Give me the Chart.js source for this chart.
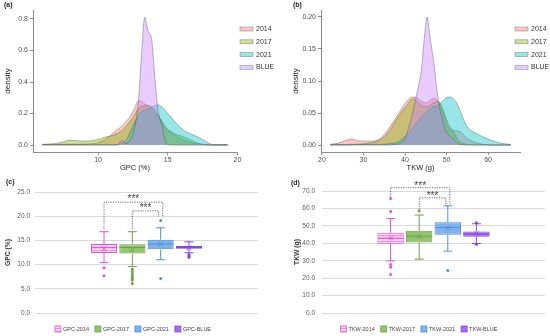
<!DOCTYPE html>
<html>
<head>
<meta charset="utf-8">
<script src="https://cdn.jsdelivr.net/npm/chart.js@4.4.1/dist/chart.umd.min.js"></script>
<style>
  body { margin: 0; background: #fff; }
  #wrap { position: relative; width: 550px; height: 336px; overflow: hidden; }
  canvas { position: absolute; }
  .tag { position: absolute; font: bold 7px "Liberation Sans", Arial, sans-serif; color: #222; }
</style>
</head>
<body>
<div id="wrap">
  <canvas id="gpcBox" width="275" height="164" style="left:0;top:172px"></canvas>
  <canvas id="tkwBox" width="275" height="164" style="left:275px;top:172px"></canvas>
  <canvas id="gpcDensity" width="275" height="176" style="left:0;top:0"></canvas>
  <canvas id="tkwDensity" width="275" height="176" style="left:275px;top:0"></canvas>
  <div class="tag" style="left:4px;top:1px">(a)</div>
  <div class="tag" style="left:293px;top:1px">(b)</div>
  <div class="tag" style="left:6px;top:178px">(c)</div>
  <div class="tag" style="left:291px;top:179px">(d)</div>
</div>
<script>
const FONT = '"Liberation Sans", Arial, sans-serif';

// ---- density data ----
const densityLabels = ["2014", "2017", "2021", "BLUE"];

const gpcX = [6, 7, 7.5, 8, 8.5, 9, 9.5, 10, 10.5, 11, 11.4, 11.7, 12, 12.3, 12.6, 12.9, 13.1,
              13.35, 13.6, 13.85, 14.05, 14.3, 14.6, 14.9, 15.3, 15.7, 16.2, 16.7, 17.2, 17.7, 18.2, 18.7, 19.3];
const gpc2014 = [0.003, 0.004, 0.005, 0.006, 0.006, 0.006, 0.008, 0.015, 0.035, 0.07, 0.1, 0.12, 0.15, 0.18, 0.23, 0.28, 0.28,
                 0.26, 0.25, 0.24, 0.22, 0.19, 0.15, 0.11, 0.08, 0.05, 0.03, 0.015, 0.008, 0.003, 0.001, 0, 0];
const gpc2017 = [0.005, 0.01, 0.02, 0.03, 0.028, 0.025, 0.027, 0.035, 0.05, 0.06, 0.075, 0.09, 0.12, 0.15, 0.19, 0.23, 0.245,
                 0.25, 0.25, 0.24, 0.22, 0.19, 0.14, 0.1, 0.08, 0.065, 0.05, 0.03, 0.01, 0.002, 0, 0, 0];
const gpc2021 = [0.002, 0.002, 0.002, 0.002, 0.002, 0.002, 0.002, 0.002, 0.002, 0.002, 0.004, 0.01, 0.03, 0.08, 0.14, 0.19, 0.21,
                 0.22, 0.23, 0.24, 0.25, 0.255, 0.24, 0.21, 0.17, 0.13, 0.09, 0.07, 0.05, 0.025, 0.005, 0.003, 0.003];
const gpcBlue = [0, 0, 0, 0, 0, 0, 0, 0, 0, 0, 0, 0.03, 0.01, 0.03, 0.1, 0.28, 0.55,
                 0.81, 0.72, 0.67, 0.45, 0.22, 0.12, 0.01, 0, 0, 0, 0, 0, 0, 0, 0, 0];
const gpcXTicks = [10, 15, 20];
const gpcYTicks = [0, 0.2, 0.4, 0.6, 0.8];

const tkwX = [22, 24, 26, 27, 28, 30, 32, 34, 36, 38, 39, 40, 41, 42, 43, 44, 44.7,
              45.3, 46, 47, 48, 49, 50, 50.7, 51.5, 52.5, 53.5, 55, 57, 59, 61, 63, 65.5];
const tkw2014 = [0.001, 0.003, 0.008, 0.009, 0.008, 0.006, 0.006, 0.01, 0.025, 0.045, 0.055, 0.065, 0.072, 0.075, 0.073, 0.068, 0.066,
                 0.066, 0.07, 0.073, 0.068, 0.055, 0.04, 0.03, 0.023, 0.022, 0.02, 0.01, 0.004, 0.001, 0, 0, 0];
const tkw2017 = [0, 0, 0, 0, 0.001, 0.002, 0.004, 0.008, 0.02, 0.04, 0.05, 0.058, 0.067, 0.072, 0.068, 0.062, 0.06,
                 0.06, 0.062, 0.066, 0.068, 0.058, 0.035, 0.025, 0.022, 0.01, 0.004, 0.001, 0, 0, 0, 0, 0];
const tkw2021 = [0.001, 0.001, 0.001, 0.001, 0.001, 0.001, 0.001, 0.001, 0.002, 0.004, 0.008, 0.013, 0.02, 0.028, 0.036, 0.043, 0.048,
                 0.052, 0.056, 0.06, 0.063, 0.068, 0.074, 0.075, 0.073, 0.065, 0.05, 0.028, 0.019, 0.012, 0.007, 0.003, 0.001];
const tkwBlue = [0, 0, 0, 0, 0, 0, 0, 0, 0, 0.001, 0.003, 0.01, 0.03, 0.055, 0.085, 0.12, 0.17,
                 0.2, 0.17, 0.125, 0.07, 0.04, 0.02, 0.015, 0.01, 0.004, 0, 0, 0, 0, 0, 0, 0];
const tkwXTicks = [20, 30, 40, 50, 60];
const tkwYTicks = [0, 0.05, 0.1, 0.15, 0.2];

// ---- box plot data ----
const gpcSeries = ["GPC-2014", "GPC-2017", "GPC-2021", "GPC-BLUE"];
const gpcQ1 = [12.4, 12.3, 13.15, 13.3];
const gpcQ3 = [14.25, 14.2, 15.15, 13.85];
const gpcMedian = [13.5, 13.55, 14.25, 13.55];
const gpcMean = [13.3, 13.05, 14.2, 13.5];
const gpcMin = [10.45, 9.6, 11.0, 12.45];
const gpcMax = [16.8, 16.8, 17.6, 14.7];
const gpcOutliers = [[9.35, 7.7], [9.1, 8.6, 8.1, 7.6, 7.2, 6.8, 6.1], [19.1, 7.15], [12.1, 11.8, 11.5]];
const gpcBracketFrom = [0, 1];
const gpcBracketTo = [2, 2];
const gpcBracketTop = [22.9, 21.1];
const gpcBracketFromEnd = [17.3, 17.3];
const gpcBracketToEnd = [19.7, 19.85];

const tkwSeries = ["TKW-2014", "TKW-2017", "TKW-2021", "TKW-BLUE"];
const tkwQ1 = [39.7, 40.5, 44.9, 43.7];
const tkwQ3 = [46.0, 47.2, 52.0, 46.8];
const tkwMedian = [42.9, 44.1, 49.1, 45.3];
const tkwMean = [43.0, 43.9, 48.6, 45.5];
const tkwMin = [29.9, 30.9, 35.5, 39.9];
const tkwMax = [54.2, 56.2, 61.5, 51.2];
const tkwOutliers = [[65.7, 58.2, 27.8, 26.3, 22.1], [58.5], [24.4], [51.8, 39.4]];
const tkwBracketFrom = [0, 1];
const tkwBracketTo = [2, 2];
const tkwBracketTop = [71.9, 66.1];
const tkwBracketFromEnd = [66.7, 59.5];
const tkwBracketToEnd = [62.3, 62.3];

// ---- density charts ----
const densityFill = ["rgba(248,118,109,0.4)", "rgba(124,174,0,0.4)", "rgba(0,191,196,0.4)", "rgba(199,124,255,0.4)"];

const densityLegend = {
    id: "densityLegend",
    afterDraw(chart, args, opts) {
        const ctx = chart.ctx;
        ctx.save();
        ctx.font = "7px " + FONT;
        ctx.textBaseline = "middle";
        chart.data.datasets.forEach((ds, i) => {
            const y = opts.top + i * 12.8;
            ctx.fillStyle = ds.backgroundColor;
            ctx.fillRect(opts.left, y - 2, 13, 4);
            ctx.strokeStyle = ds.borderColor;
            ctx.lineWidth = 0.6;
            ctx.strokeRect(opts.left, y - 2, 13, 4);
            ctx.fillStyle = "#333";
            ctx.fillText(ds.label, opts.left + 16, y);
        });
        ctx.restore();
    }
};

function densityConfig(xs, series, xTicks, yTicks, xRange, yRange, xTitle, yDigits, leftWidth, yTitlePad) {
    return {
        type: "line",
        data: {
            datasets: series.map((ys, i) => ({
                label: densityLabels[i],
                data: xs.map((x, j) => ({ x: x, y: ys[j] })),
                backgroundColor: densityFill[i],
                borderColor: "rgba(70,70,70,0.55)",
                borderWidth: 0.7,
                fill: "origin",
                pointRadius: 0,
                cubicInterpolationMode: "monotone",
                order: 4 - i
            }))
        },
        options: {
            responsive: false,
            animation: false,
            events: [],
            layout: { padding: { left: 0, top: 10, right: 275 - leftWidth - (xRange.width), bottom: 0 } },
            plugins: {
                legend: { display: false },
                tooltip: { enabled: false },
                densityLegend: { left: 240, top: 29 }
            },
            scales: {
                x: {
                    type: "linear",
                    min: xRange.min,
                    max: xRange.max,
                    afterBuildTicks: s => { s.ticks = xTicks.map(v => ({ value: v })); },
                    afterFit: s => { s.height = 24; },
                    grid: { drawOnChartArea: false, drawTicks: true, tickLength: 3, color: "#8c8c8c" },
                    border: { color: "#8c8c8c" },
                    ticks: { color: "#4d4d4d", font: { size: 7, family: FONT }, padding: 1, maxRotation: 0,
                             callback: v => String(v) },
                    title: { display: true, text: xTitle, color: "#222", font: { size: 7.5, family: FONT },
                             padding: { top: 0, bottom: 3.5 } }
                },
                y: {
                    min: yRange.min,
                    max: yRange.max,
                    afterBuildTicks: s => { s.ticks = yTicks.map(v => ({ value: v })); },
                    afterFit: s => { s.width = leftWidth; },
                    grid: { drawOnChartArea: false, drawTicks: true, tickLength: 3, color: "#8c8c8c" },
                    border: { color: "#8c8c8c" },
                    ticks: { color: "#4d4d4d", font: { size: 7, family: FONT }, padding: 2,
                             callback: v => Number(v).toFixed(yDigits) },
                    title: { display: true, text: "density", color: "#222", font: { size: 8, family: FONT },
                             padding: { top: yTitlePad, bottom: 0 } }
                }
            }
        },
        plugins: [densityLegend]
    };
}

new Chart(document.getElementById("gpcDensity"),
    densityConfig(gpcX, [gpc2014, gpc2017, gpc2021, gpcBlue], gpcXTicks, gpcYTicks,
        { min: 5.33, max: 19.97, width: 204 }, { min: -0.044, max: 0.857 }, "GPC (%)", 1, 33, 3));

new Chart(document.getElementById("tkwDensity"),
    densityConfig(tkwX, [tkw2014, tkw2017, tkw2021, tkwBlue], tkwXTicks, tkwYTicks,
        { min: 19.76, max: 67.7, width: 199 }, { min: -0.0109, max: 0.2109 }, "TKW (g)", 2, 46, 16));

// ---- box plots ----
function stripes() {
    const c = document.createElement("canvas");
    c.width = 4; c.height = 3;
    const g = c.getContext("2d");
    g.fillStyle = "#f9d3f1";
    g.fillRect(0, 0, 4, 3);
    g.fillStyle = "#ef96dd";
    g.fillRect(0, 0, 4, 1);
    return g.createPattern(c, "repeat");
}

const boxFill = [stripes(), "#93c470", "#80b3ec", "#a66ce6"];
const boxLine = ["#e453c6", "#6e9e4a", "#4f8dd8", "#8745db"];

const boxPlot = {
    id: "boxPlot",
    afterDatasetsDraw(chart, args, o) {
        const ctx = chart.ctx;
        const ys = chart.scales.y;
        const py = v => ys.getPixelForValue(v);
        const line = (x1, y1, x2, y2) => { ctx.beginPath(); ctx.moveTo(x1, y1); ctx.lineTo(x2, y2); ctx.stroke(); };
        const xs = [];
        chart.data.datasets.forEach((ds, i) => {
            const bar = chart.getDatasetMeta(i).data[0];
            const x = bar.x, half = bar.width / 2, cap = 4.5;
            xs.push(x);
            ctx.save();
            ctx.strokeStyle = boxLine[i];
            ctx.lineWidth = 1;
            line(x, py(o.q3[i]), x, py(o.max[i]));
            line(x - cap, py(o.max[i]), x + cap, py(o.max[i]));
            line(x, py(o.q1[i]), x, py(o.min[i]));
            line(x - cap, py(o.min[i]), x + cap, py(o.min[i]));
            line(x - half, py(o.median[i]), x + half, py(o.median[i]));
            const m = py(o.mean[i]), r = 2.3;
            line(x - r, m - r, x + r, m + r);
            line(x - r, m + r, x + r, m - r);
            ctx.fillStyle = boxLine[i];
            o.outliers[i].forEach(v => {
                ctx.beginPath();
                ctx.arc(x, py(v), 1.5, 0, Math.PI * 2);
                ctx.fill();
            });
            ctx.restore();
        });
        // significance brackets
        ctx.save();
        ctx.strokeStyle = "#6a6a6a";
        ctx.lineWidth = 1;
        ctx.setLineDash([1.2, 1.2]);
        ctx.fillStyle = "#444";
        ctx.font = "10px " + FONT;
        ctx.textAlign = "center";
        ctx.textBaseline = "alphabetic";
        o.from.forEach((f, k) => {
            const x1 = xs[f], x2 = xs[o.to[k]] + o.shift[k];
            const yt = py(o.top[k]);
            ctx.beginPath();
            ctx.moveTo(x1, py(o.fromEnd[k]));
            ctx.lineTo(x1, yt);
            ctx.lineTo(x2, yt);
            ctx.lineTo(x2, py(o.toEnd[k]));
            ctx.stroke();
            ctx.fillText("***", (x1 + x2) / 2, yt + o.textLift);
        });
        ctx.restore();
        // legend
        ctx.save();
        ctx.font = "5.5px " + FONT;
        ctx.textBaseline = "middle";
        const widths = chart.data.datasets.map(ds => 8 + ctx.measureText(ds.label).width);
        const gap = 6;
        const total = widths.reduce((a, b) => a + b, 0) + gap * (widths.length - 1);
        let lx = o.legendCenter - total / 2;
        chart.data.datasets.forEach((ds, i) => {
            ctx.fillStyle = boxFill[i];
            ctx.fillRect(lx, o.legendY - 3, 6, 6);
            ctx.strokeStyle = boxLine[i];
            ctx.lineWidth = 0.8;
            ctx.strokeRect(lx, o.legendY - 3, 6, 6);
            ctx.fillStyle = "#404040";
            ctx.fillText(ds.label, lx + 8, o.legendY + 0.5);
            lx += widths[i] + gap;
        });
        ctx.restore();
    }
};

function boxConfig(labels, s, yMax, yStep, yTitle, pad, catPct, yTitlePad, tickPad) {
    return {
        type: "bar",
        data: {
            labels: [""],
            datasets: labels.map((lab, i) => ({
                label: lab,
                data: [[s.q1[i], s.q3[i]]],
                backgroundColor: boxFill[i],
                borderColor: boxLine[i],
                borderWidth: 1,
                borderSkipped: false,
                categoryPercentage: catPct,
                barPercentage: 0.92
            }))
        },
        options: {
            responsive: false,
            animation: false,
            events: [],
            layout: { padding: pad },
            plugins: {
                legend: { display: false },
                tooltip: { enabled: false },
                boxPlot: s
            },
            scales: {
                x: { display: false },
                y: {
                    min: 0,
                    max: yMax,
                    afterFit: sc => { sc.width = pad.axis; },
                    grid: { color: "#d9d9d9", drawTicks: false },
                    border: { display: false },
                    ticks: { stepSize: yStep, color: "#595959", font: { size: 6.5, family: FONT }, padding: tickPad,
                             callback: v => Number(v).toFixed(1) },
                    title: { display: true, text: yTitle, color: "#333", font: { size: 6.8, weight: "bold", family: FONT },
                             padding: { top: yTitlePad, bottom: 0 } }
                }
            }
        },
        plugins: [boxPlot]
    };
}

new Chart(document.getElementById("gpcBox"), boxConfig(gpcSeries, {
    q1: gpcQ1, q3: gpcQ3, median: gpcMedian, mean: gpcMean, min: gpcMin, max: gpcMax, outliers: gpcOutliers,
    from: gpcBracketFrom, to: gpcBracketTo, top: gpcBracketTop, fromEnd: gpcBracketFromEnd, toEnd: gpcBracketToEnd,
    shift: [2, -2], textLift: 0, legendCenter: 133, legendY: 157
}, 25, 5, "GPC (%)", { left: 0, top: 20, right: 17, bottom: 23, axis: 35 }, 0.508, 4, 5));

new Chart(document.getElementById("tkwBox"), boxConfig(tkwSeries, {
    q1: tkwQ1, q3: tkwQ3, median: tkwMedian, mean: tkwMean, min: tkwMin, max: tkwMax, outliers: tkwOutliers,
    from: tkwBracketFrom, to: tkwBracketTo, top: tkwBracketTop, fromEnd: tkwBracketFromEnd, toEnd: tkwBracketToEnd,
    shift: [2, -2], textLift: 1, legendCenter: 144, legendY: 157
}, 70, 10, "TKW (g)", { left: 0, top: 19, right: 5, bottom: 23, axis: 47 }, 0.513, 18, 7));
</script>
</body>
</html>
